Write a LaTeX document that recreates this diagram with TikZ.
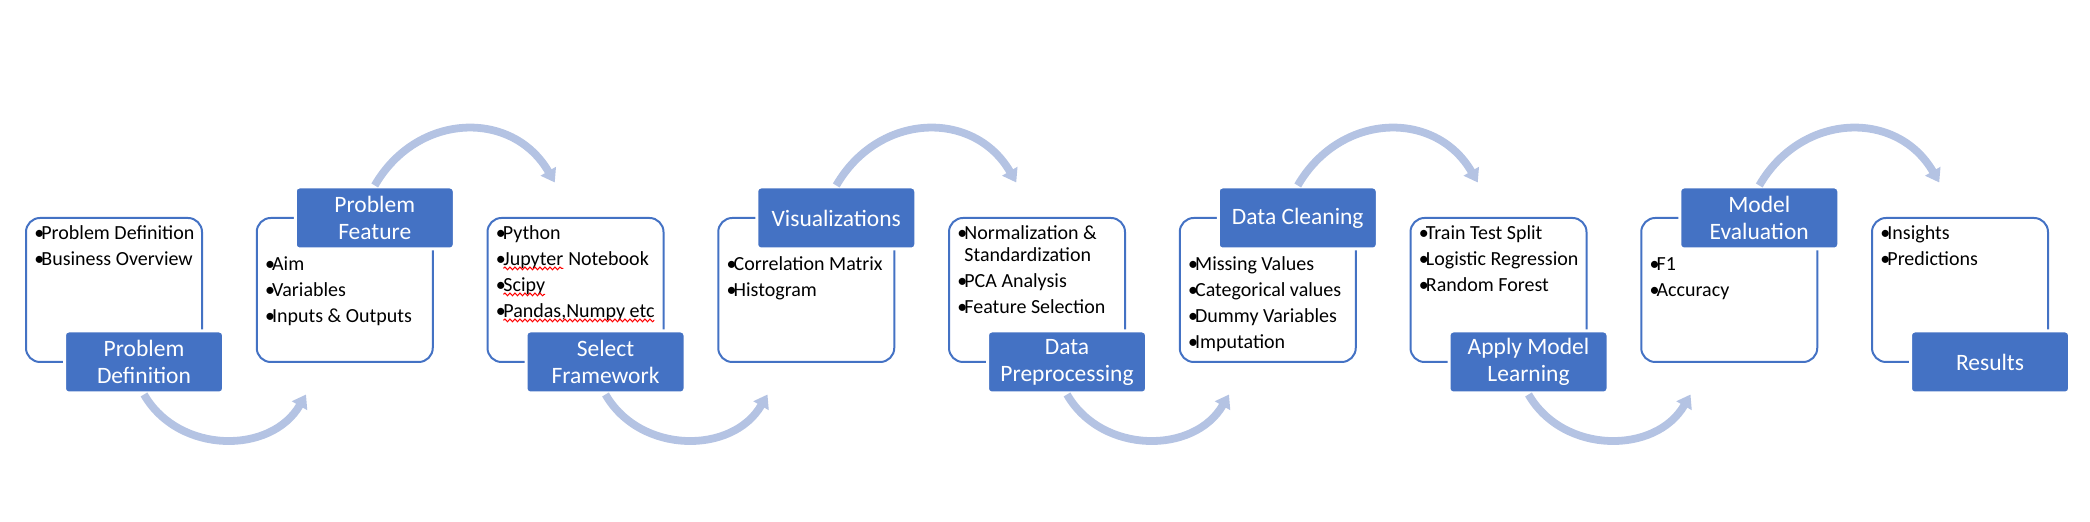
\documentclass[tikz,border=0pt]{standalone}
\usepackage{fontspec}
\setmainfont{Carlito}
\usetikzlibrary{shapes,arrows.meta,positioning,calc,decorations.pathmorphing}
\definecolor{boxblue}{HTML}{4472C4}
\definecolor{flowblue}{HTML}{B4C3E3}
\tikzset{
box/.style = {draw=boxblue, line width=1pt, rounded corners=7pt, rectangle, minimum width=88pt, minimum height=72pt, outer sep=0pt},
tag/.style = {draw=white, line width=1.5pt, fill=boxblue, rounded corners=2pt, rectangle, minimum width=79.5pt, minimum height=31pt, inner sep=0pt, text=white, align=center, font=\fontsize{11.75}{13.5}\selectfont},
items/.style = {anchor=north west, align=left, inner sep=0pt, font=\fontsize{10}{13}\selectfont},
tip/.style = {coordinate},
flow/.style = {draw=flowblue, line width=3.9pt, -{Triangle[width=8.5pt,length=6.5pt]}},
squiggle/.style = {draw=red, line width=0.5pt, decorate, decoration={snake, amplitude=0.7pt, segment length=2.5pt}}
}
\newcommand{\bul}{\makebox[3.5pt][l]{\textbullet}}
\newcommand{\spellmark}[1]{\tikz[baseline=(w.base)]{\node [anchor=base, inner sep=0pt, outer sep=0pt] (w) {#1};
    \draw [squiggle] ([yshift=-1.5pt]w.base west) -- ([yshift=-1.5pt]w.base east);}}

\begin{document}
\begin{tikzpicture}[auto, node distance=115.375pt]
                \useasboundingbox (0,0) rectangle (1045pt,261pt);

                % frames
                \node [box] at (57pt,116pt) (box1) {};
                \node [box, right of=box1] (box2) {};
                \node [box, right of=box2] (box3) {};
                \node [box, right of=box3] (box4) {};
                \node [box, right of=box4] (box5) {};
                \node [box, right of=box5] (box6) {};
                \node [box, right of=box6] (box7) {};
                \node [box, right of=box7] (box8) {};
                \node [box, right of=box8] (box9) {};

                % bullet lists
                \node [items] at ([xshift=4pt,yshift=-1.4pt]box1.north west) (txt1) {\strut\bul Problem Definition\\\bul Business Overview};
                \node [items] at ([xshift=4pt,yshift=-16.9pt]box2.north west) (txt2) {\strut\bul Aim\\\bul Variables\\\bul Inputs \& Outputs};
                \node [items] at ([xshift=4pt,yshift=-1.4pt]box3.north west) (txt3) {\strut\bul Python\\\bul \spellmark{Jupyter} Notebook\\\bul \spellmark{Scipy}\\\bul \spellmark{Pandas,Numpy etc}};
                \node [items] at ([xshift=4pt,yshift=-16.9pt]box4.north west) (txt4) {\strut\bul Correlation Matrix\\\bul Histogram};
                \node [items] at ([xshift=4pt,yshift=-1.4pt]box5.north west) (txt5) {\strut\bul Normalization \&\\[-2pt]\hspace*{3.5pt}Standardization\\\bul PCA Analysis\\\bul Feature Selection};
                \node [items] at ([xshift=4pt,yshift=-16.9pt]box6.north west) (txt6) {\strut\bul Missing Values\\\bul Categorical values\\\bul Dummy Variables\\\bul Imputation};
                \node [items] at ([xshift=4pt,yshift=-1.4pt]box7.north west) (txt7) {\strut\bul Train Test Split\\\bul Logistic Regression\\\bul Random Forest};
                \node [items] at ([xshift=4pt,yshift=-16.9pt]box8.north west) (txt8) {\strut\bul F1\\\bul Accuracy};
                \node [items] at ([xshift=4pt,yshift=-1.4pt]box9.north west) (txt9) {\strut\bul Insights\\\bul Predictions};

                % step titles
                \node [tag] at ([xshift=15pt]box1.south) (lab1) {Problem\\Definition};
                \node [tag] at ([xshift=15pt]box2.north) (lab2) {Problem\\Feature};
                \node [tag] at ([xshift=15pt]box3.south) (lab3) {Select\\Framework};
                \node [tag] at ([xshift=15pt]box4.north) (lab4) {Visualizations};
                \node [tag] at ([xshift=15pt]box5.south) (lab5) {Data\\Preprocessing};
                \node [tag] at ([xshift=15pt]box6.north) (lab6) {Data Cleaning};
                \node [tag] at ([xshift=15pt]box7.south) (lab7) {Apply Model\\Learning};
                \node [tag] at ([xshift=15pt]box8.north) (lab8) {Model\\Evaluation};
                \node [tag] at ([xshift=15pt]box9.south) (lab9) {Results};

                % arrow ends
                \coordinate [right=81pt of lab1.south] (end1);
                \coordinate [above right=1.5pt and 90pt of lab2.north] (end2);
                \coordinate [right=81pt of lab3.south] (end3);
                \coordinate [above right=1.5pt and 90pt of lab4.north] (end4);
                \coordinate [right=81pt of lab5.south] (end5);
                \coordinate [above right=1.5pt and 90pt of lab6.north] (end6);
                \coordinate [right=81pt of lab7.south] (end7);
                \coordinate [above right=1.5pt and 90pt of lab8.north] (end8);

                \draw [flow] (lab1.south) to [out=-60, in=-120, looseness=1.1] (end1);
                \draw [flow] (lab2.north) to [out=60, in=120, looseness=1.2] (end2);
                \draw [flow] (lab3.south) to [out=-60, in=-120, looseness=1.1] (end3);
                \draw [flow] (lab4.north) to [out=60, in=120, looseness=1.2] (end4);
                \draw [flow] (lab5.south) to [out=-60, in=-120, looseness=1.1] (end5);
                \draw [flow] (lab6.north) to [out=60, in=120, looseness=1.2] (end6);
                \draw [flow] (lab7.south) to [out=-60, in=-120, looseness=1.1] (end7);
                \draw [flow] (lab8.north) to [out=60, in=120, looseness=1.2] (end8);
\end{tikzpicture}
\end{document}
